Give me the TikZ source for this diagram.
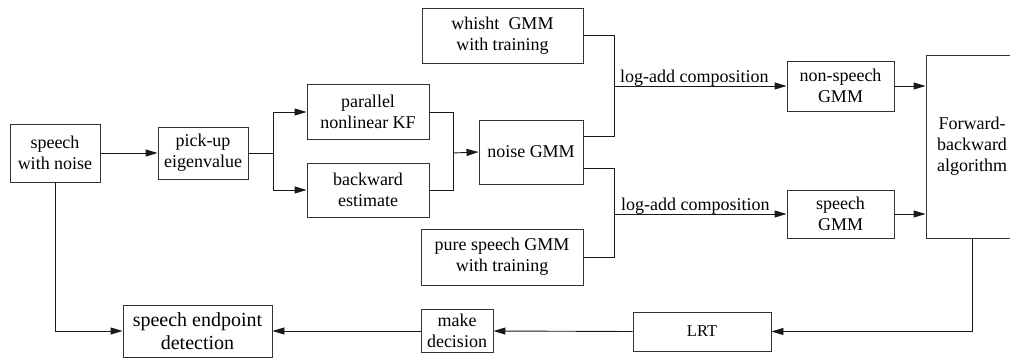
\documentclass[tikz,border=0pt]{standalone}
\usepackage{fontspec}
\setmainfont{Liberation Serif}
\usetikzlibrary{arrows.meta}
\tikzset{
  blk/.style={draw=black!80, line width=0.9pt, inner sep=0pt, align=center,
    font=\fontsize{18}{21}\selectfont},
  conn/.style={draw=black!90, line width=0.9pt},
  arr/.style={conn, -{Triangle[length=12pt,width=7pt]}},
  lbl/.style={inner sep=0pt, font=\fontsize{18}{21}\selectfont, anchor=base west}
}
\begin{document}
\begin{tikzpicture}[x=1pt,y=-1pt]
\clip (0,0) rectangle (1010,359);
\fill[white] (0,0) rectangle (1010,359);
% boxes
\node[blk, minimum width=90pt, minimum height=58pt] (swn) at (55,153) {speech\\with noise};
\node[blk, minimum width=90pt, minimum height=52pt] (pick) at (203,153) {pick-up\\eigenvalue};
\node[blk, minimum width=122pt, minimum height=55pt] (kf) at (368,112) {parallel\\nonlinear KF};
\node[blk, minimum width=122pt, minimum height=54pt] (be) at (368,190) {backward\\estimate};
\node[blk, minimum width=104pt, minimum height=64pt] (ngmm) at (531,152) {noise GMM};
\node[blk, minimum width=161pt, minimum height=55pt] (wh) at (502.5,35.5) {whisht\ \ GMM\\with training};
\node[blk, minimum width=162pt, minimum height=56pt] (ps) at (502,257) {pure speech GMM\\with training};
\node[blk, minimum width=107pt, minimum height=50pt] (ns) at (840.5,86) {non-speech\\GMM};
\node[blk, minimum width=107pt, minimum height=48pt] (sg) at (840.5,214) {speech\\GMM};
\node[blk, minimum width=92pt, minimum height=183pt] (fb) at (972,146.5) {Forward-\\backward\\algorithm};
\node[blk, minimum width=138pt, minimum height=39pt, font=\fontsize{16.5}{20}\selectfont] (lrt) at (702,331.5) {LRT};
\node[blk, minimum width=72pt, minimum height=43pt] (md) at (457,331) {make\\decision};
\node[blk, minimum width=149pt, minimum height=52pt, font=\fontsize{20}{23}\selectfont] (sed) at (197.5,331) {speech endpoint\\detection};
% junctions
\coordinate (b1) at (273,153);
\coordinate (j2) at (453,153);
\coordinate (j3) at (614,86);
\coordinate (j4) at (614,214);
% connectors
\draw[arr] (swn.east) -- (pick.west);
\draw[conn] (pick.east) -- (b1);
\draw[arr] (b1) |- (kf.west);
\draw[arr] (b1) |- (be.west);
\draw[conn] (kf.east) -| (j2);
\draw[conn] (be.east) -| (j2);
\draw[arr] (j2) -- (ngmm.west);
\draw[conn] (wh.east) -| (j3);
\draw[conn] ([yshift=16pt]ngmm.east) -| (j3);
\draw[arr] (j3) -- (ns.west);
\draw[conn] ([yshift=-16pt]ngmm.east) -| (j4);
\draw[conn] (ps.east) -| (j4);
\draw[arr] (j4) -- (sg.west);
\node[lbl] (l1) at (620,82) {log-add composition};
\node[lbl] (l2) at (621,210) {log-add composition};
\draw[arr] (ns.east) -- (ns.east -| fb.west);
\draw[arr] (sg.east) -- (sg.east -| fb.west);
\draw[arr] (fb.south) |- (lrt.east);
\draw[arr] (lrt.west) -- (md.east);
\draw[arr] (md.west) -- (sed.east);
\draw[arr] (swn.south) |- (sed.west);
\end{tikzpicture}
\end{document}
